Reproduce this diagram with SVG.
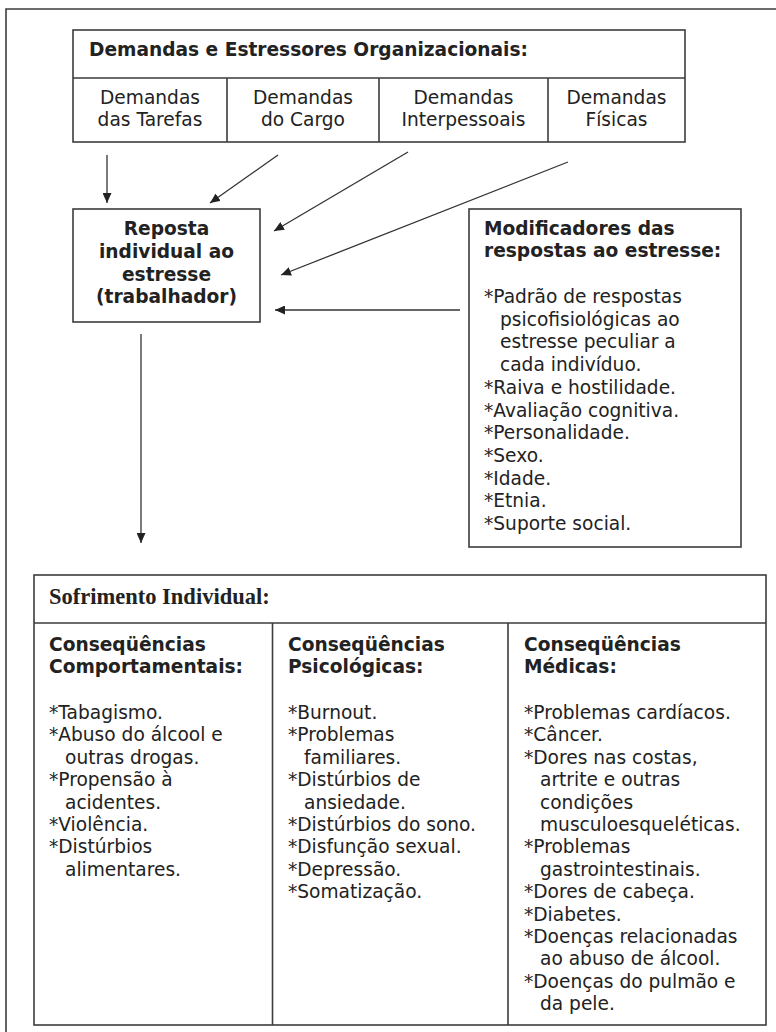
<svg xmlns="http://www.w3.org/2000/svg" width="776" height="1032" viewBox="0 0 776 1032">
<style>
.box{fill:#fff;stroke:#3c3c3c;stroke-width:1.6}
.ln{stroke:#3c3c3c;stroke-width:1.6;fill:none}
.t{font-family:"DejaVu Sans",Verdana,sans-serif;font-size:18.6px;fill:#222}
.b{font-family:"DejaVu Sans",Verdana,sans-serif;font-size:18.6px;font-weight:bold;fill:#222}
.c{text-anchor:middle}
.s{font-family:"Liberation Serif","Times New Roman",serif;font-size:22.5px;font-weight:bold;fill:#222}
.con{stroke:#333;stroke-width:1.3;fill:none;marker-end:url(#ah)}
</style>
<defs>
<marker id="ah" markerUnits="userSpaceOnUse" markerWidth="10" markerHeight="9" refX="10" refY="4.5" orient="auto">
<path d="M0,0 L10,4.5 L0,9 z" fill="#222"/>
</marker>
</defs>
<rect width="776" height="1032" fill="#fff"/>
<path class="ln" d="M6,1032 V9 H776"/>

<g id="demandas">
<rect class="box" x="73" y="30" width="612" height="112"/>
<path class="ln" d="M73,78 H685 M227,78 V142 M379,78 V142 M548,78 V142"/>
<text class="b" x="89" y="56">Demandas e Estressores Organizacionais:</text>
<text class="t c" x="150" y="104">Demandas</text>
<text class="t c" x="150" y="126">das Tarefas</text>
<text class="t c" x="303" y="104">Demandas</text>
<text class="t c" x="303" y="126">do Cargo</text>
<text class="t c" x="463.5" y="104">Demandas</text>
<text class="t c" x="463.5" y="126">Interpessoais</text>
<text class="t c" x="616.5" y="104">Demandas</text>
<text class="t c" x="616.5" y="126">Físicas</text>
</g>

<g id="reposta">
<rect class="box" x="73" y="209" width="187" height="113"/>
<text class="b c" x="166.5" y="235">Reposta</text>
<text class="b c" x="166.5" y="258">individual ao</text>
<text class="b c" x="166.5" y="281">estresse</text>
<text class="b c" x="166.5" y="303">(trabalhador)</text>
</g>

<g id="modificadores">
<rect class="box" x="469" y="209" width="272" height="338"/>
<text class="b" x="484" y="235">Modificadores das</text>
<text class="b" x="484" y="257">respostas ao estresse:</text>
<text class="t" x="484" y="303">*Padrão de respostas</text>
<text class="t" x="500" y="325.7">psicofisiológicas ao</text>
<text class="t" x="500" y="348.4">estresse peculiar a</text>
<text class="t" x="500" y="371.1">cada indivíduo.</text>
<text class="t" x="484" y="393.8">*Raiva e hostilidade.</text>
<text class="t" x="484" y="416.5">*Avaliação cognitiva.</text>
<text class="t" x="484" y="439.2">*Personalidade.</text>
<text class="t" x="484" y="461.9">*Sexo.</text>
<text class="t" x="484" y="484.6">*Idade.</text>
<text class="t" x="484" y="507.3">*Etnia.</text>
<text class="t" x="484" y="530">*Suporte social.</text>
</g>

<g id="sofrimento">
<rect class="box" x="34" y="575" width="732" height="450"/>
<path class="ln" d="M34,623 H766 M272.5,623 V1025 M508,623 V1025"/>
<text class="s" x="49" y="604">Sofrimento Individual:</text>
</g>

<g id="comportamentais">
<text class="b" x="49" y="651">Conseqüências</text>
<text class="b" x="49" y="673">Comportamentais:</text>
<text class="t" x="49" y="719">*Tabagismo.</text>
<text class="t" x="49" y="741.4">*Abuso do álcool e</text>
<text class="t" x="65" y="763.8">outras drogas.</text>
<text class="t" x="49" y="786.2">*Propensão à</text>
<text class="t" x="65" y="808.6">acidentes.</text>
<text class="t" x="49" y="831">*Violência.</text>
<text class="t" x="49" y="853.4">*Distúrbios</text>
<text class="t" x="65" y="875.8">alimentares.</text>
</g>

<g id="psicologicas">
<text class="b" x="288" y="651">Conseqüências</text>
<text class="b" x="288" y="673">Psicológicas:</text>
<text class="t" x="288" y="719">*Burnout.</text>
<text class="t" x="288" y="741.4">*Problemas</text>
<text class="t" x="304" y="763.8">familiares.</text>
<text class="t" x="288" y="786.2">*Distúrbios de</text>
<text class="t" x="304" y="808.6">ansiedade.</text>
<text class="t" x="288" y="831">*Distúrbios do sono.</text>
<text class="t" x="288" y="853.4">*Disfunção sexual.</text>
<text class="t" x="288" y="875.8">*Depressão.</text>
<text class="t" x="288" y="898.2">*Somatização.</text>
</g>

<g id="medicas">
<text class="b" x="524" y="651">Conseqüências</text>
<text class="b" x="524" y="673">Médicas:</text>
<text class="t" x="524" y="719">*Problemas cardíacos.</text>
<text class="t" x="524" y="741.4">*Câncer.</text>
<text class="t" x="524" y="763.8">*Dores nas costas,</text>
<text class="t" x="540" y="786.2">artrite e outras</text>
<text class="t" x="540" y="808.6">condições</text>
<text class="t" x="540" y="831">musculoesqueléticas.</text>
<text class="t" x="524" y="853.4">*Problemas</text>
<text class="t" x="540" y="875.8">gastrointestinais.</text>
<text class="t" x="524" y="898.2">*Dores de cabeça.</text>
<text class="t" x="524" y="920.6">*Diabetes.</text>
<text class="t" x="524" y="943">*Doenças relacionadas</text>
<text class="t" x="540" y="965.4">ao abuso de álcool.</text>
<text class="t" x="524" y="987.8">*Doenças do pulmão e</text>
<text class="t" x="540" y="1010.2">da pele.</text>
</g>

<g id="connectors">
<line class="con" x1="107" y1="155" x2="107" y2="203"/>
<line class="con" x1="278" y1="155" x2="210" y2="203"/>
<line class="con" x1="408" y1="152" x2="274" y2="231"/>
<line class="con" x1="568" y1="162" x2="281" y2="275"/>
<line class="con" x1="460" y1="310" x2="275" y2="310"/>
<line class="con" x1="141" y1="334" x2="141" y2="543"/>
</g>
</svg>
